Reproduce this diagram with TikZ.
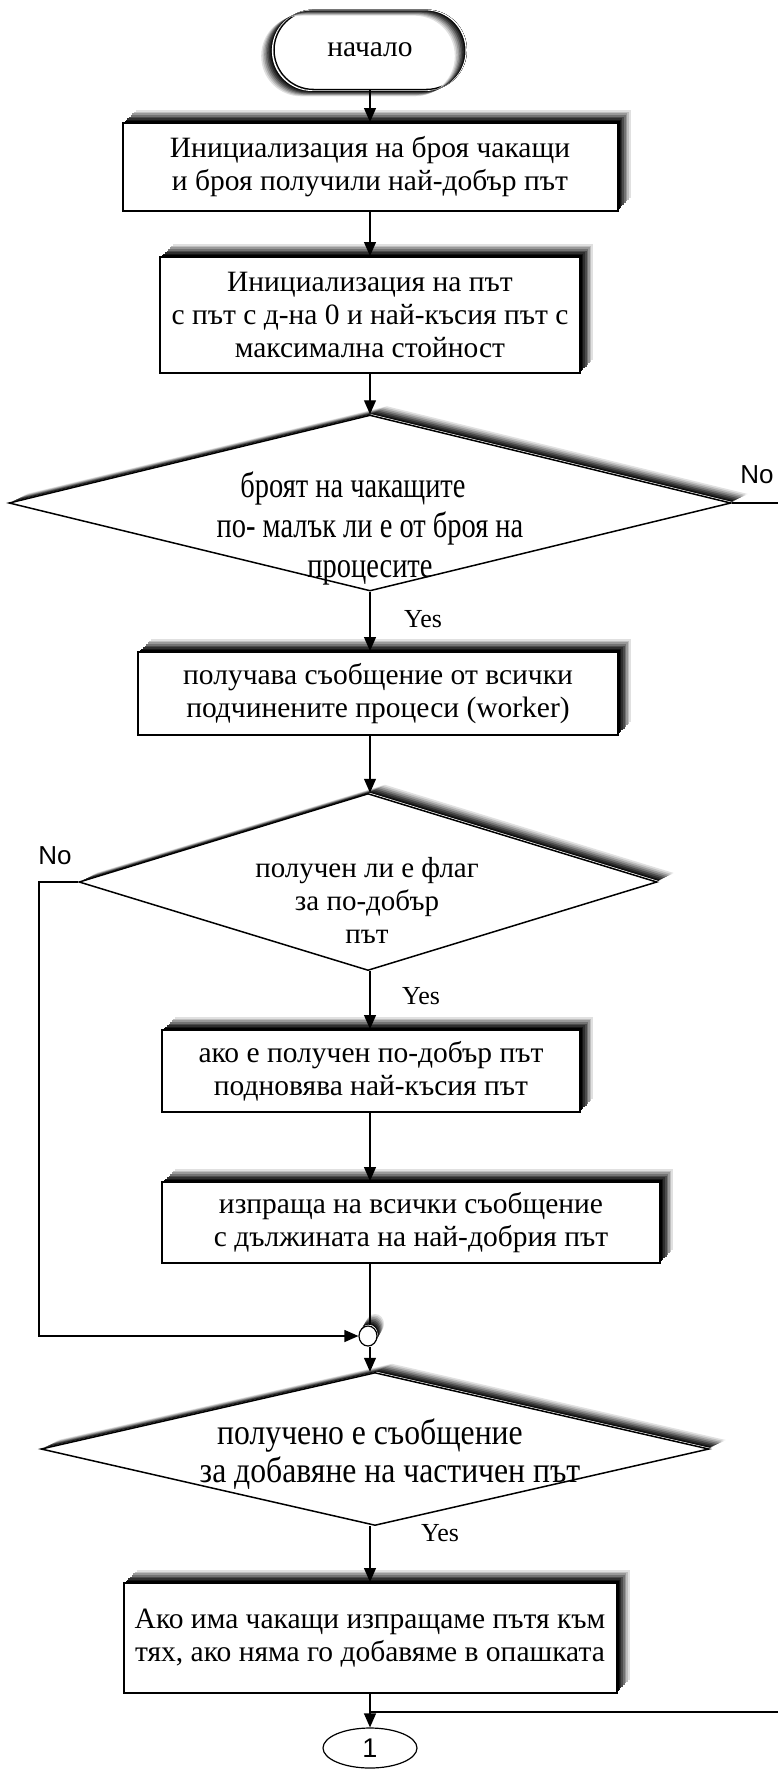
\documentclass[tikz,border=0pt]{standalone}
\usepackage{fontspec}
\setmainfont{Liberation Serif}
\newfontfamily\condfont[FakeStretch=0.79]{Liberation Serif}
\newfontfamily\semicondfont[FakeStretch=0.88]{Liberation Serif}
\newfontfamily\labfont{Liberation Sans}
\usetikzlibrary{shapes.geometric,shapes.misc,arrows.meta}

\tikzset{
  % one slice of a graded drop shadow (#1, #2 = offset, #3 = grey level)
  shadelayer/.style n args={3}{preaction={fill=black!#3,
      transform canvas={xshift=#1, yshift=#2}}},
  % graded shadow: dark next to the shape, fading outwards,
  % with a thin white seam along the outline
  fadeshadow/.style 2 args={
    shadelayer={1.000*(#1)}{1.000*(#2)}{12},
    shadelayer={0.875*(#1)}{0.875*(#2)}{25},
    shadelayer={0.750*(#1)}{0.750*(#2)}{40},
    shadelayer={0.625*(#1)}{0.625*(#2)}{55},
    shadelayer={0.500*(#1)}{0.500*(#2)}{70},
    shadelayer={0.375*(#1)}{0.375*(#2)}{82},
    shadelayer={0.250*(#1)}{0.250*(#2)}{92},
    shadelayer={0.160*(#1)}{0.160*(#2)}{100},
    shadelayer={0.110*(#1)}{0.110*(#2)}{0}},
  stepbox/.style={draw, line width=2pt, fill=white, rectangle, inner sep=0pt,
    align=center, font=\fontsize{29.5}{33}\selectfont,
    fadeshadow={13pt}{13pt}},
  decision/.style={draw, line width=1.5pt, fill=white, diamond, inner sep=0pt,
    fadeshadow={17pt}{9pt}},
  dtext/.style={align=center, inner sep=0pt},
  terminal/.style={draw, line width=1.5pt, fill=white, rounded rectangle,
    minimum width=192pt, minimum height=79pt, inner sep=0pt,
    font=\fontsize{29.5}{33}\selectfont},
  joint/.style={draw, line width=1.2pt, fill=white, ellipse,
    minimum width=18pt, minimum height=20pt, inner sep=0pt,
    fadeshadow={7pt}{12pt}},
  offpage/.style={draw, line width=1.2pt, ellipse, minimum width=94pt,
    minimum height=40pt, inner sep=0pt,
    font=\labfont\fontsize{27}{30}\selectfont},
  flow/.style={line width=1.2pt},
  arr/.style={flow, -{Triangle[width=12pt,length=14pt]}},
  yeslab/.style={font=\fontsize{26}{30}\selectfont, inner sep=0pt},
  nolab/.style={font=\labfont\fontsize{26}{30}\selectfont, inner sep=0pt},
}

\begin{document}
\begin{tikzpicture}[x=1pt,y=-1pt]
\useasboundingbox[fill=white] (0,0) rectangle (778,1769);

% ---- start terminal ----
\node[terminal] (start) at (370,50) {начало};
% its graded shadow falls down-left: shifted outlines minus the terminal itself
\foreach \f/\c in {1.000/12,0.875/25,0.750/40,0.625/55,0.500/70,0.375/82,0.250/92,0.160/100,0.110/0}
  \fill[black!\c, even odd rule, rounded corners=40pt]
    ({273.2-12*\f},{9.7+6*\f}) rectangle ++(193.6,80.6)
    (273.2,9.7) rectangle ++(193.6,80.6);

% ---- process boxes and decisions ----
\node[stepbox, minimum width=495pt, minimum height=88pt] (init1) at (370,167)
  {Инициализация на броя чакащи\\и броя получили най-добър път};
\node[stepbox, minimum width=420pt, minimum height=116pt] (init2) at (370,315)
  {Инициализация на път\\с път с д-на 0 и най-късия път с\\максимална стойност};

\node[decision, minimum width=722pt, minimum height=176pt] (q1) at (370,503) {};
\node[dtext, font=\condfont\fontsize{36}{40}\selectfont] (q1t) at (370,528)
  {броят на чакащите\hspace*{34pt}\\по- малък ли е от броя на\\процесите};

\node[stepbox, minimum width=480pt, minimum height=83pt] (recv) at (378,693.5)
  {получава съобщение от всички\\подчинените процеси (worker)};

\node[decision, minimum width=578pt, minimum height=177pt] (q2) at (368,882) {};
\node[dtext, font=\fontsize{29}{33}\selectfont] (q2t) at (367,900)
  {получен ли е флаг\\за по-добър\\път};

\node[stepbox, minimum width=418pt, minimum height=82pt] (upd) at (371,1071)
  {ако е получен по-добър път\\подновява най-късия път};
\node[stepbox, minimum width=498pt, minimum height=81pt] (bcast) at (411,1222.5)
  {изпраща на всички съобщение\\с дължината на най-добрия път};

\node[joint] (join) at (368,1336) {};

\node[decision, minimum width=668pt, minimum height=153pt] (q3) at (375,1449) {};
\node[dtext, font=\semicondfont\fontsize{36}{38}\selectfont] (q3t) at (370,1454)
  {получено е съобщение\\\hspace*{40pt}за добавяне на частичен път};

\node[stepbox, minimum width=493pt, minimum height=110pt] (send) at (370,1638)
  {Ако има чакащи изпращаме пътя към\\тях, ако няма го добавяме в опашката};
\node[offpage] (cont) at (370,1748) {1};

% ---- connectors ----
\draw[arr] (start.south) -- (init1.north);
\draw[arr] (init1.south) -- (init2.north);
\draw[arr] (init2.south) -- (q1.north);

\coordinate (noexit) at (778,503);
\draw[flow] (q1.east) -- (noexit);
\node[nolab] (no1) at (757,475) {No};

\draw[arr] (q1.south) -- (q1.south |- recv.north);
\node[yeslab] (yes1) at (423,619) {Yes};
\draw[arr] (q1.south |- recv.south) -- (q1.south |- q2.north);

\coordinate (nobend) at (39,882);
\draw[arr] (q2.west) -- (nobend) |- (join.west);
\node[nolab] (no2) at (55,856) {No};

\draw[arr] (q2.south -| q1.south) -- (q1.south |- upd.north);
\node[yeslab] (yes2) at (421,996) {Yes};
\draw[arr] (q1.south |- upd.south) -- (q1.south |- bcast.north);
\draw[flow] (q1.south |- bcast.south) -- (q1.south |- join.north);
\draw[arr] (q1.south |- join.south) -- (q1.south |- q3.north);

\draw[arr] (send.north |- q3.south) -- (send.north);
\node[yeslab] (yes3) at (440,1533) {Yes};
\draw[arr] (send.south) -- (cont.north);

\coordinate (tapL) at (370,1712);
\coordinate (tapR) at (778,1712);
\draw[flow] (tapL) -- (tapR);
\end{tikzpicture}
\end{document}
